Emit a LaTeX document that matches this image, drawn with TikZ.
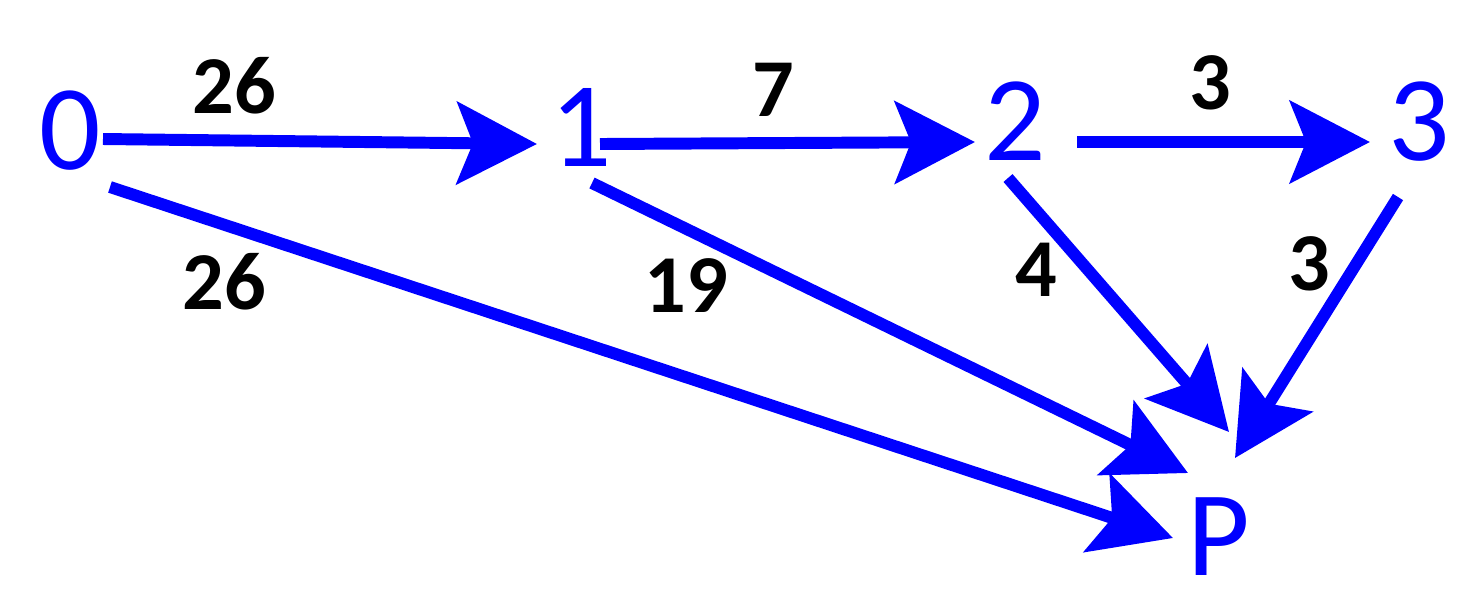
\documentclass[tikz,border=0pt]{standalone}
\usepackage{fontspec}
\setmainfont{Carlito}
\usetikzlibrary{arrows.meta}

\begin{document}
\begin{tikzpicture}[
    vtx/.style={text=blue,font=\fontsize{34.5}{40}\selectfont,inner sep=0pt},
    wlabel/.style={font=\fontsize{23.4}{28}\selectfont\bfseries,inner sep=0pt},
    flow/.style={draw=blue,line width=3.4pt,-{Stealth[length=8mm,width=8.2mm,inset=1.6mm]}}]
\useasboundingbox (0,0) rectangle (14.72,-6.11);
% vertices
\node[vtx] (n0) at (0.70,-1.31) {0};
\node[vtx] (n1) at (5.81,-1.27) {1};
\node[vtx] (n2) at (10.15,-1.21) {2};
\node[vtx] (n3) at (14.19,-1.22) {3};
\node[vtx] (nP) at (12.19,-5.37) {P};
% weights
\node[wlabel] (w01) at (2.34,-0.86) {26};
\node[wlabel] (w12) at (7.73,-0.90) {7};
\node[wlabel] (w23) at (12.10,-0.83) {3};
\node[wlabel] (w0P) at (2.24,-2.82) {26};
\node[wlabel] (w1P) at (6.86,-2.86) {19};
\node[wlabel] (w2P) at (10.36,-2.70) {4};
\node[wlabel] (w3P) at (13.09,-2.64) {3};
% arcs
\draw[flow] ([shift={(0.33,-0.08)}]n0.center) -- ([shift={(-0.44,-0.17)}]n1.center);
\draw[flow] ([shift={(0.19,-0.17)}]n1.center) -- ([shift={(-0.40,-0.21)}]n2.center);
\draw[flow] ([shift={(0.62,-0.21)}]n2.center) -- ([shift={(-0.49,-0.20)}]n3.center);
\draw[flow] ([shift={(0.40,-0.56)}]n0.center) -- ([shift={(-0.46,-0.01)}]nP.center);
\draw[flow] ([shift={(0.11,-0.56)}]n1.center) -- ([shift={(-0.31,0.64)}]nP.center);
\draw[flow] ([shift={(-0.07,-0.57)}]n2.center) -- ([shift={(0.10,1.05)}]nP.center);
\draw[flow] ([shift={(-0.21,-0.75)}]n3.center) -- ([shift={(0.16,0.79)}]nP.center);
\end{tikzpicture}
\end{document}
